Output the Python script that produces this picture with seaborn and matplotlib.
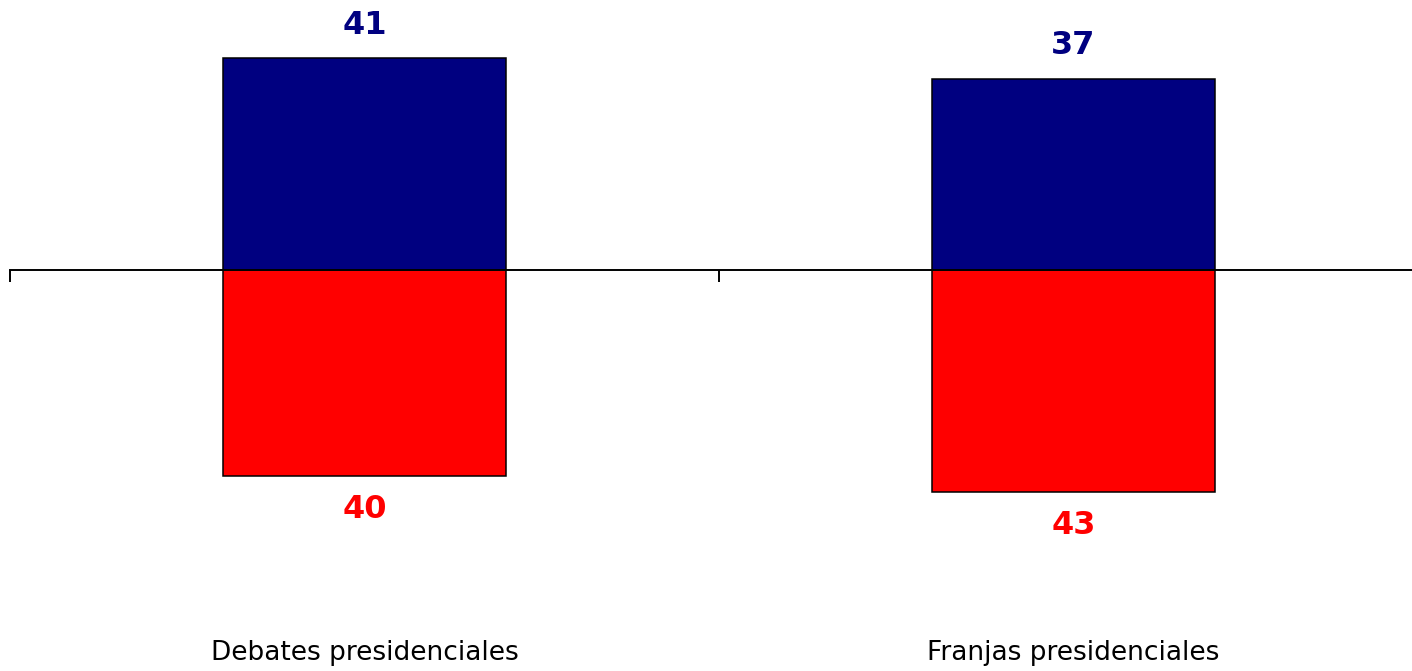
import matplotlib
matplotlib.use("Agg")
import matplotlib.pyplot as plt
import pandas as pd
import seaborn as sns

categories = ["Debates presidenciales", "Franjas presidenciales"]
positive_values = [41, 37]
negative_values = [40, 43]
series_names = ["Positivo", "Negativo"]
series_colors = {"Positivo": "#000080", "Negativo": "#FF0000"}

df = pd.DataFrame({
    "categoria": categories * 2,
    "valor": positive_values + [-v for v in negative_values],
    "serie": [series_names[0]] * 2 + [series_names[1]] * 2,
})

sns.set_style("white")
plt.rcParams["font.family"] = ["DejaVu Sans"]

W, H = 1412, 671
fig = plt.figure(figsize=(W / 100, H / 100), dpi=100)
# axes spans pixel x 10..1412, full height
ax = fig.add_axes([10 / W, 0, (W - 10) / W, 1])

sns.barplot(data=df, x="categoria", y="valor", hue="serie", dodge=False,
            palette=series_colors, saturation=1, width=0.4, edgecolor="black",
            linewidth=1.1, legend=False, ax=ax)

for s in ["top", "right", "left"]:
    ax.spines[s].set_visible(False)
ax.spines["bottom"].set_position(("data", 0))
ax.spines["bottom"].set_linewidth(1.4)
ax.spines["bottom"].set_color("black")
ax.set_xticks([-0.5, 0.5, 1.5])
ax.set_xticklabels([])
ax.tick_params(axis="x", bottom=True, direction="out", length=8.5, width=1.4, color="black")
ax.set_yticks([])
ax.set_xlabel("")
ax.set_ylabel("")

px_per_unit = 5.16
zero_px = 270
ax.set_ylim(-(H - zero_px) / px_per_unit, zero_px / px_per_unit)
ax.set_xlim(-0.5, -0.5 + (W - 10) / 709)

for i, cat in enumerate(categories):
    ax.annotate(str(positive_values[i]), (i, positive_values[i]),
                xytext=(0, 24), textcoords="offset points", ha="center", va="center",
                fontsize=23, fontweight="bold", color=series_colors["Positivo"])
    ax.annotate(str(negative_values[i]), (i, -negative_values[i]),
                xytext=(0, -24), textcoords="offset points", ha="center", va="center",
                fontsize=23, fontweight="bold", color=series_colors["Negativo"])
    ax.text(i, -(653 - zero_px) / px_per_unit, cat, ha="center", va="center",
            fontsize=19, color="black")

fig.savefig("out.png", dpi=100)
